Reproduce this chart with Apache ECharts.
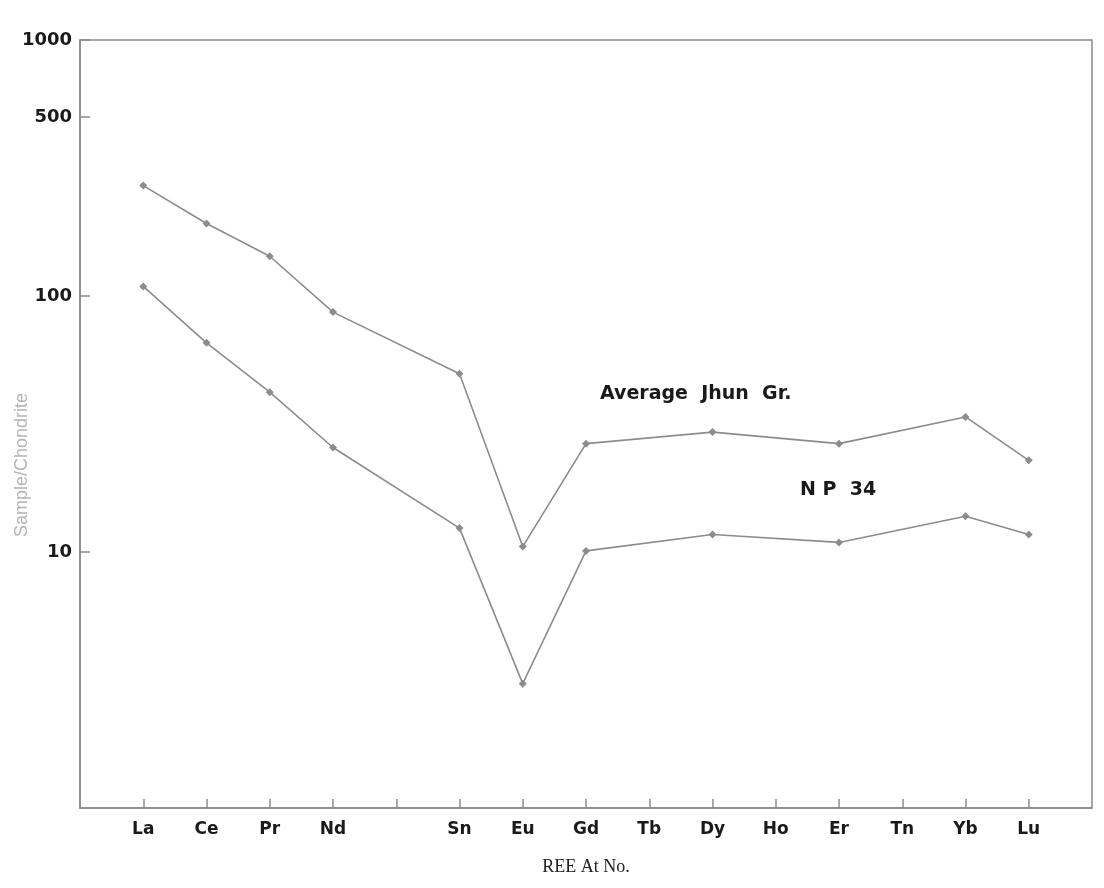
<!DOCTYPE html>
<html>
<head>
<meta charset="utf-8">
<script src="https://cdn.jsdelivr.net/npm/echarts@6/dist/echarts.min.js"></script>
<style>html,body{margin:0;padding:0;background:#fff}#c{width:1104px;height:888px}</style>
</head>
<body>
<div id="c"></div>
<script>
// Element labels at atomic positions 1..15 (position 5 = Pm, unlabeled)
const categories = ['', 'La', 'Ce', 'Pr', 'Nd', '', 'Sn', 'Eu', 'Gd', 'Tb', 'Dy', 'Ho', 'Er', 'Tn', 'Yb', 'Lu', ''];
// Positions of measured elements
const positions = [1, 2, 3, 4, 6, 7, 8, 10, 12, 14, 15];
const averageJhun = [270, 192, 143, 86.5, 49.7, 10.5, 26.5, 29.4, 26.5, 33.7, 22.8];
const np34 = [109, 65.6, 42.1, 25.6, 12.4, 3.06, 10.1, 11.7, 10.9, 13.8, 11.7];
const yTicks = [10, 100, 500, 1000];

const toPairs = (vals) => positions.map((p, i) => [p, vals[i]]);

const chart = echarts.init(document.getElementById('c'));
const axisColor = '#8a8a8a';
const lineColor = '#8c8c8c';
const labelFont = { fontFamily: 'DejaVu Sans', fontWeight: 'bold', color: '#1a1a1a' };

chart.setOption({
  animation: false,
  backgroundColor: '#ffffff',
  grid: { left: 80, right: 12, top: 40, bottom: 80, outerBoundsMode: 'none', containLabel: false,
    show: true, borderColor: axisColor, borderWidth: 1.5 },
  xAxis: {
    type: 'value', min: 0, max: 16, interval: 1,
    splitLine: { show: false },
    axisLine: { show: true, lineStyle: { color: axisColor, width: 1.5 } },
    axisTick: { show: true, inside: true, length: 9, lineStyle: { color: axisColor, width: 1.5 },
      customValues: [1,2,3,4,5,6,7,8,9,10,11,12,13,14,15] },
    axisLabel: Object.assign({ fontSize: 17, margin: 13,
      customValues: [1,2,3,4,6,7,8,9,10,11,12,13,14,15],
      formatter: (v) => categories[Math.round(v)] || '' }, labelFont),
    name: 'REE At No.', nameLocation: 'middle', nameGap: 50,
    nameTextStyle: { fontFamily: 'Liberation Serif', fontSize: 18, color: '#222' }
  },
  yAxis: {
    type: 'log', logBase: 10, min: 1, max: 1000,
    splitLine: { show: false },
    axisLine: { show: true, lineStyle: { color: axisColor, width: 1.5 } },
    axisTick: { show: true, inside: true, length: 10, lineStyle: { color: axisColor, width: 1.5 }, customValues: yTicks },
    axisLabel: Object.assign({ fontSize: 18, margin: 8, customValues: yTicks,
      formatter: (v) => String(Math.round(v)) }, labelFont)
  },
  series: [
    {
      name: 'Average Jhun Gr.', type: 'line', data: toPairs(averageJhun),
      symbol: 'diamond', symbolSize: 8,
      lineStyle: { color: lineColor, width: 1.6 },
      itemStyle: { color: lineColor }
    },
    {
      name: 'NP 34', type: 'line', data: toPairs(np34),
      symbol: 'diamond', symbolSize: 8,
      lineStyle: { color: lineColor, width: 1.6 },
      itemStyle: { color: lineColor }
    }
  ],
  graphic: [
    { type: 'text', x: 22, y: 465, rotation: Math.PI / 2,
      style: { text: 'Sample/Chondrite', font: '18px "Liberation Sans"', fill: '#b5b5b5', align: 'center', verticalAlign: 'middle' } },
    { type: 'text', left: 600, top: 385, style: { text: 'Average  Jhun  Gr.', font: 'bold 19px "DejaVu Sans"', fill: '#1a1a1a' } },
    { type: 'text', left: 800, top: 481, style: { text: 'N P  34', font: 'bold 19px "DejaVu Sans"', fill: '#1a1a1a' } }
  ]
});
</script>
</body>
</html>
